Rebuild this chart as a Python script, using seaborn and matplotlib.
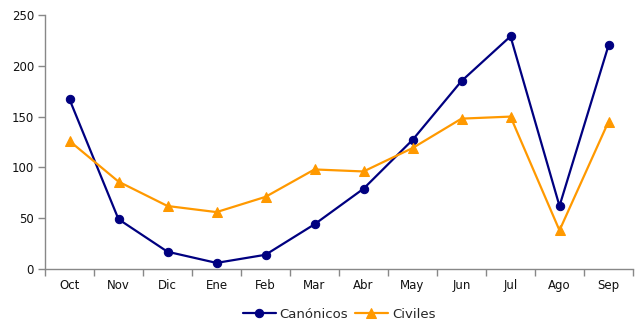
import matplotlib
matplotlib.use("Agg")
import matplotlib.pyplot as plt
import seaborn as sns
import pandas as pd
import numpy as np

months = ["Oct", "Nov", "Dic", "Ene", "Feb", "Mar", "Abr", "May", "Jun", "Jul", "Ago", "Sep"]
canonicos = [167, 49, 17, 6, 14, 44, 79, 127, 185, 229, 62, 220]
civiles = [126, 86, 62, 56, 71, 98, 96, 119, 148, 150, 38, 145]
y_ticks = [0, 50, 100, 150, 200, 250]

sns.set_theme(style="white")
plt.rcParams["font.family"] = ["DejaVu Sans"]

fig = plt.figure(figsize=(6.43, 3.30), dpi=100)
ax = fig.add_axes([45 / 643, 61 / 330, 588 / 643, 254 / 330])

pos = np.arange(len(months))
df = pd.DataFrame({"pos": pos, "Canónicos": canonicos, "Civiles": civiles})

sns.lineplot(data=df, x="pos", y="Canónicos", ax=ax, color="#000080", marker="o",
             markersize=6, markeredgecolor="#000080", linewidth=1.6, label="Canónicos")
sns.lineplot(data=df, x="pos", y="Civiles", ax=ax, color="#FF9900", marker="^",
             markersize=7, markeredgecolor="#FF9900", linewidth=1.6, label="Civiles")

ax.set_xlim(-0.5, len(months) - 0.5)
ax.set_ylim(0, 250)
ax.set_xlabel("")
ax.set_ylabel("")

ax.set_xticks(pos)
ax.set_xticklabels(months, fontsize=8.5, color="#111111")
ax.set_xticks(np.arange(-0.5, len(months)), minor=True)
ax.tick_params(axis="x", which="major", length=0, pad=7)
ax.tick_params(axis="x", which="minor", length=5, width=1, color="#888888", direction="out", bottom=True)

ax.set_yticks(y_ticks)
ax.set_yticklabels([str(v) for v in y_ticks], fontsize=8.5, color="#111111")
ax.tick_params(axis="y", which="major", length=5, width=1, color="#888888", direction="out", left=True, pad=3)

for side in ["top", "right"]:
    ax.spines[side].set_visible(False)
for side in ["left", "bottom"]:
    ax.spines[side].set_color("#888888")
    ax.spines[side].set_linewidth(1)

ax.legend(loc="upper center", bbox_to_anchor=(0.5, -0.105), ncol=2, frameon=False,
          fontsize=9.5, handlelength=2.5, columnspacing=0.5, handletextpad=0.3)

fig.savefig("out.png", dpi=100, facecolor="white")
